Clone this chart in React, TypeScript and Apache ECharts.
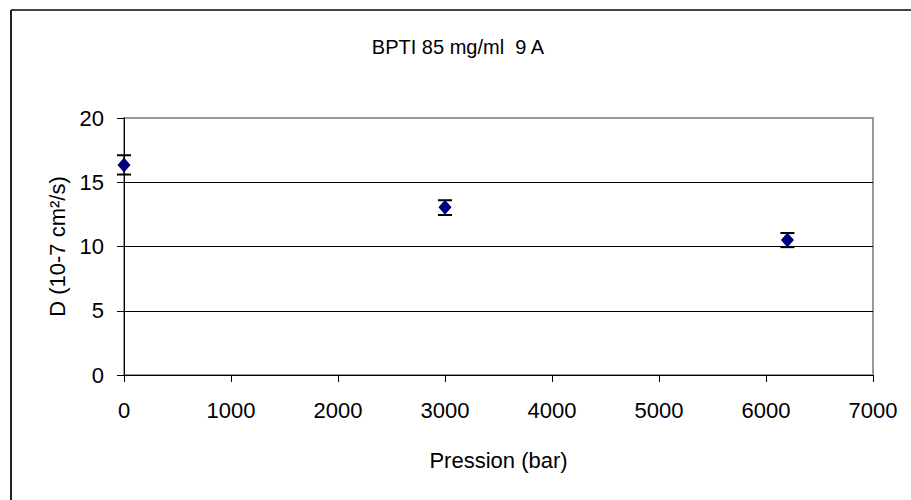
import React, { useEffect, useRef } from "react";
import * as echarts from "echarts";

const titleText = "BPTI 85 mg/ml  9 A";
const xName = "Pression (bar)";
const yName = "D (10-7 cm²/s)";
const pressions = [0, 3000, 6200];
const dValues = [16.35, 13.05, 10.5];
const dLow = [15.6, 12.45, 9.95];
const dHigh = [17.1, 13.6, 11.05];

export default function App() {
  const ref = useRef<HTMLDivElement>(null);
  useEffect(() => {
    if (!ref.current) return;
    const chart = echarts.init(ref.current, null, { renderer: "svg" });
    const font = "Liberation Sans, Arial, sans-serif";
    const points = pressions.map((p, i) => [p, dValues[i]]);
    const errs = pressions.map((p, i) => [p, dLow[i], dHigh[i]]);
    chart.setOption({
      animation: false,
      backgroundColor: "#fff",
      title: {
        text: titleText,
        left: 453,
        top: 32,
        textAlign: "center",
        textStyle: { fontFamily: font, fontSize: 20, fontWeight: "normal", color: "#000" },
      },
      graphic: [
        { type: "line", shape: { x1: 11, y1: 10, x2: 911, y2: 10 }, style: { stroke: "#444", lineWidth: 2 } },
        { type: "line", shape: { x1: 11, y1: 10, x2: 11, y2: 500 }, style: { stroke: "#222", lineWidth: 2 } },
      ],
      grid: {
        left: 124,
        top: 118,
        right: 38,
        bottom: 125,
        show: true,
        borderColor: "#999",
        borderWidth: 2,
        backgroundColor: "transparent",
      },
      xAxis: {
        type: "value",
        min: 0,
        max: 7000,
        interval: 1000,
        name: xName,
        nameLocation: "middle",
        nameGap: 74,
        nameTextStyle: { fontFamily: font, fontSize: 22, color: "#000" },
        axisLine: { show: true, onZero: false, lineStyle: { color: "#000", width: 1 } },
        axisTick: { show: true, inside: false, length: 7, lineStyle: { color: "#000" } },
        axisLabel: { fontFamily: font, fontSize: 22, color: "#000", margin: 24, formatter: (v: number) => String(v) },
        splitLine: { show: false },
      },
      yAxis: {
        type: "value",
        min: 0,
        max: 20,
        interval: 5,
        name: yName,
        nameLocation: "middle",
        nameGap: 56,
        nameRotate: 90,
        nameTextStyle: { fontFamily: font, fontSize: 22, color: "#000" },
        axisLine: { show: true, lineStyle: { color: "#000", width: 1 } },
        axisTick: { show: true, inside: false, length: 7, lineStyle: { color: "#000" } },
        axisLabel: { fontFamily: font, fontSize: 22, color: "#000", margin: 20 },
        splitLine: { show: true, lineStyle: { color: ["#000", "#000", "#000", "#000", "#999"], width: 1 } },
      },
      series: [
        {
          type: "custom",
          data: errs,
          z: 3,
          renderItem: (params: any, api: any) => {
            const x = api.value(0);
            const lo = api.coord([x, api.value(1)]);
            const hi = api.coord([x, api.value(2)]);
            const w = 7;
            const style = { stroke: "#000", lineWidth: 2 };
            return {
              type: "group",
              children: [
                { type: "line", shape: { x1: lo[0], y1: lo[1], x2: hi[0], y2: hi[1] }, style: { stroke: "#000", lineWidth: 1 } },
                { type: "line", shape: { x1: lo[0] - w, y1: lo[1], x2: lo[0] + w, y2: lo[1] }, style },
                { type: "line", shape: { x1: hi[0] - w, y1: hi[1], x2: hi[0] + w, y2: hi[1] }, style },
              ],
            };
          },
        },
        {
          type: "scatter",
          data: points,
          symbol: "diamond",
          symbolSize: [13, 15],
          z: 4,
          itemStyle: { color: "#000080", borderColor: "#000080", borderWidth: 0, opacity: 1 },
        },
      ],
    });
    return () => chart.dispose();
  }, []);
  return <div ref={ref} style={{ width: 911, height: 500, position: "absolute", left: 0, top: 0 }} />;
}
